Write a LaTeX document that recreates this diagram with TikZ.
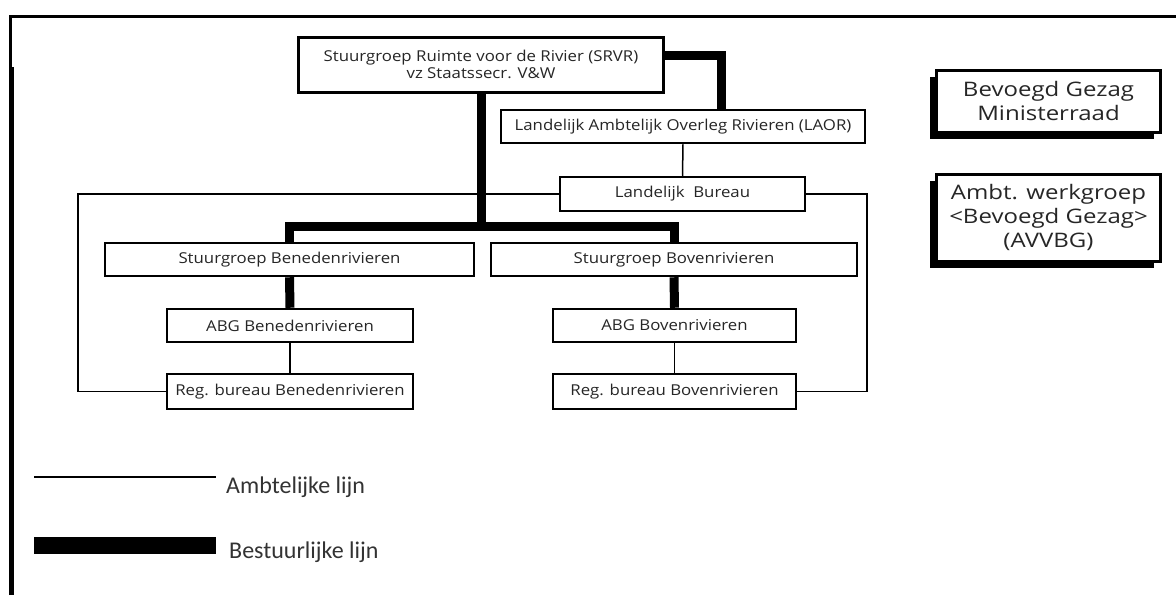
\documentclass[tikz,border=0pt]{standalone}
\usepackage{fontspec}
\setmainfont{Open Sans}
\newfontfamily\boxfont[FakeStretch=1.12]{Open Sans}
\newfontfamily\bigfont[FakeStretch=1.2]{Open Sans}
\newfontfamily\legfont{Carlito}
\usetikzlibrary{shadows}
\begin{document}
\begin{tikzpicture}[x=1pt,y=-1pt,
  box/.style={draw, line width=2.5pt, fill=white, inner sep=0pt, align=center,
    text=black!85, font=\boxfont\fontsize{15}{17}\selectfont},
  bigbox/.style={draw, line width=3pt, fill=white, inner sep=0pt, align=center,
    minimum width=224pt, text=black!85, font=\bigfont\fontsize{20}{24}\selectfont,
    drop shadow={shadow xshift=-7pt, shadow yshift=-7pt, fill=black, opacity=1}},
  ambt/.style={line width=1.5pt},
  bestuur/.style={line width=9pt, line join=miter},
  legtext/.style={anchor=base west, inner sep=0pt, text=black!80, font=\legfont\fontsize{24}{28}\selectfont}]
\useasboundingbox (0,0) rectangle (1176,595);
% frame
\draw[line width=3pt] (10,595) -- (10,16.5) -- (1176,16.5);
\draw[line width=5pt] (11.5,67) -- (11.5,595);
% boxes
\node[box, line width=3pt, minimum width=365pt, minimum height=55pt] (srvr) at (481,64.5)
  {Stuurgroep Ruimte voor de Rivier (SRVR)\\vz Staatssecr. V\&W};
\node[box, minimum width=364pt, minimum height=33pt] (laor) at (683,126.5)
  {Landelijk Ambtelijk Overleg Rivieren (LAOR)};
\node[box, minimum width=245pt, minimum height=34pt] (lb) at (682.5,194)
  {Landelijk\ \ Bureau};
\node[box, minimum width=369pt, minimum height=33pt] (sben) at (289.5,259.5)
  {Stuurgroep Benedenrivieren};
\node[box, minimum width=366pt, minimum height=33pt] (sbov) at (674,259.5)
  {Stuurgroep Bovenrivieren};
\node[box, minimum width=246pt, minimum height=33pt] (aben) at (290,325.5)
  {ABG Benedenrivieren};
\node[box, minimum width=246pt, minimum height=35pt] (rben) at (290,391.5)
  {Reg. bureau Benedenrivieren};
\node[box, minimum width=243pt, minimum height=33pt] (abov) at (674.5,325.5)
  {ABG Bovenrivieren};
\node[box, minimum width=243pt, minimum height=35pt] (rbov) at (674.5,391.5)
  {Reg. bureau Bovenrivieren};
\node[bigbox, minimum height=62pt] (bg) at (1048.5,101)
  {Bevoegd Gezag\\Ministerraad};
\node[bigbox, minimum height=87pt] (aw) at (1048.5,217.5)
  {Ambt. werkgroep\\<Bevoegd Gezag>\\(AVVBG)};
% connectors
\coordinate (c1) at (721,55);
\coordinate (bar) at (0,226);
\coordinate (cL) at (78,300);
\coordinate (cR) at (867,300);
\draw[bestuur] (srvr.east |- c1) -- (c1) -- (c1 |- laor.north);
\draw[bestuur] (srvr.south) -- (srvr.south |- bar);
\draw[bestuur] (sben.north) -- (sben.north |- bar) -- (sbov.north |- bar) -- (sbov.north);
\draw[bestuur] (sben.south) -- (aben.north);
\draw[bestuur] (sbov.south) -- (abov.north);
\draw[ambt] (aben.south) -- (rben.north);
\draw[ambt] (abov.south) -- (rbov.north);
\draw[ambt] (laor.south) -- (lb.north);
\draw[ambt] (lb.west) -| (cL) |- (rben.west);
\draw[ambt] (lb.east) -| (cR) |- (rbov.east);
% legend
\coordinate (l1a) at (34,477);
\coordinate (l1b) at (216,477);
\draw[ambt] (l1a) -- (l1b);
\node[legtext] (lt1) at (226,493) {Ambtelijke lijn};
\coordinate (l2a) at (34,545.5);
\coordinate (l2b) at (216,545.5);
\draw[line width=17pt] (l2a) -- (l2b);
\node[legtext] (lt2) at (229,558) {Bestuurlijke lijn};
\end{tikzpicture}
\end{document}
